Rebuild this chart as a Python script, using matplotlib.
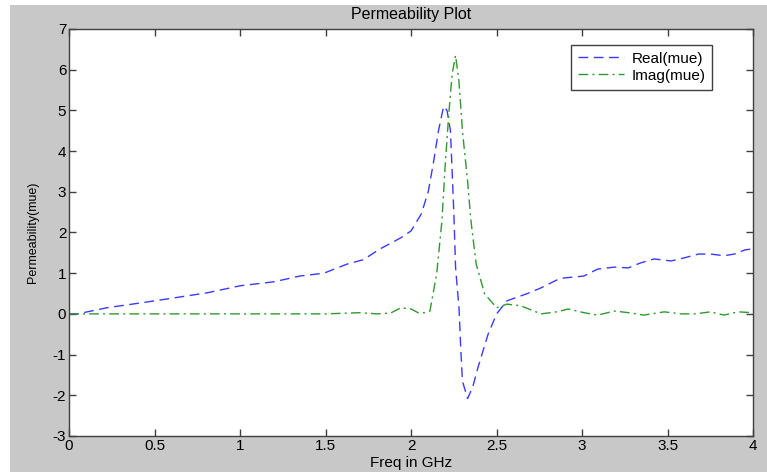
import matplotlib
matplotlib.use("Agg")
import matplotlib.pyplot as plt
from matplotlib.patches import Rectangle
import numpy as np

plt.rcParams["font.family"] = ["Liberation Sans", "DejaVu Sans"]
plt.rcParams["font.size"] = 11
plt.rcParams["axes.unicode_minus"] = False

# Real part of permeability
freq_real = [0.0, 0.05, 0.22, 0.42, 0.61, 0.81, 1.0, 1.2, 1.35, 1.49, 1.63, 1.72,
             1.82, 1.94, 2.0, 2.06, 2.1, 2.13, 2.16, 2.19, 2.21, 2.23, 2.25, 2.26,
             2.28, 2.29, 2.30, 2.33, 2.36, 2.39, 2.45, 2.5, 2.56, 2.68, 2.76, 2.86,
             2.89, 3.01, 3.09, 3.19, 3.27, 3.34, 3.42, 3.52, 3.6, 3.68, 3.75, 3.83,
             3.89, 3.95, 4.0]
mue_real = [0.0, 0.0, 0.15, 0.27, 0.39, 0.52, 0.69, 0.79, 0.93, 1.0, 1.23, 1.33,
            1.6, 1.87, 2.04, 2.46, 3.0, 3.7, 4.5, 5.1, 5.0, 4.5, 2.46, 1.13,
            0.15, -0.83, -1.65, -2.08, -1.8, -1.33, -0.5, 0.0, 0.32, 0.5, 0.64, 0.85,
            0.88, 0.93, 1.1, 1.15, 1.13, 1.25, 1.35, 1.3, 1.38, 1.47, 1.47, 1.43,
            1.47, 1.57, 1.6]

# Imaginary part of permeability
freq_imag = [0.0, 0.5, 1.0, 1.5, 1.7, 1.8, 1.88, 1.94, 2.0, 2.04, 2.08, 2.11,
             2.15, 2.18, 2.2, 2.22, 2.24, 2.26, 2.28, 2.3, 2.33, 2.35, 2.38, 2.43,
             2.5, 2.56, 2.64, 2.76, 2.85, 2.92, 3.01, 3.09, 3.19, 3.27, 3.36, 3.48,
             3.58, 3.66, 3.75, 3.83, 3.91, 4.0]
mue_imag = [0.0, 0.0, 0.0, 0.0, 0.03, 0.0, 0.02, 0.15, 0.12, 0.03, 0.03, 0.07,
            1.0, 2.28, 3.7, 4.9, 5.9, 6.35, 5.7, 4.5, 3.27, 2.28, 1.23, 0.49,
            0.15, 0.24, 0.2, 0.0, 0.05, 0.12, 0.03, -0.03, 0.07, 0.03, -0.03, 0.05,
            0.0, 0.0, 0.05, -0.03, 0.05, 0.03]

xticks = [0, 0.5, 1, 1.5, 2, 2.5, 3, 3.5, 4]
yticks = [-3, -2, -1, 0, 1, 2, 3, 4, 5, 6, 7]

fig = plt.figure(figsize=(7.67, 4.72), dpi=100, facecolor="white")
# grey MATLAB-style figure background, with a thin white margin top-left
fig.patches.append(Rectangle((10 / 767, 0), 1, 467 / 472, transform=fig.transFigure,
                             facecolor="#c8c8c8", edgecolor="none", zorder=-10))

ax = fig.add_axes([0.09, 0.0763, 0.892, 0.8623])
ax.plot(freq_real, mue_real, color="#3a3aff", lw=1.0, dashes=(7, 4), label="Real(mue)")
ax.plot(freq_imag, mue_imag, color="#2e9a2e", lw=1.0, dashes=(7, 3, 1.5, 3),
        label="Imag(mue)")

ax.set_xlim(0, 4)
ax.set_ylim(-3, 7)
ax.set_xticks(xticks)
ax.set_xticklabels([f"{t:g}" for t in xticks])
ax.set_yticks(yticks)
ax.tick_params(direction="in", top=True, right=True, length=5, width=1,
               color="#404040", labelsize=11, pad=2)
for s in ax.spines.values():
    s.set_color("#404040")
    s.set_linewidth(1.0)

ax.set_title("Permeability Plot", fontsize=11.5, pad=7)
ax.set_xlabel("Freq in GHz", fontsize=11, labelpad=2)
ax.set_ylabel("Permeability(mue)", fontsize=9, labelpad=10)

leg = ax.legend(loc="upper right", bbox_to_anchor=(0.94, 0.961), borderaxespad=0,
                fancybox=False, framealpha=1, edgecolor="#404040", fontsize=11,
                handlelength=3.0, borderpad=0.45, labelspacing=0.2, handletextpad=0.5)
leg.get_frame().set_linewidth(1.0)

fig.savefig("out.png", dpi=100, facecolor=fig.get_facecolor())
